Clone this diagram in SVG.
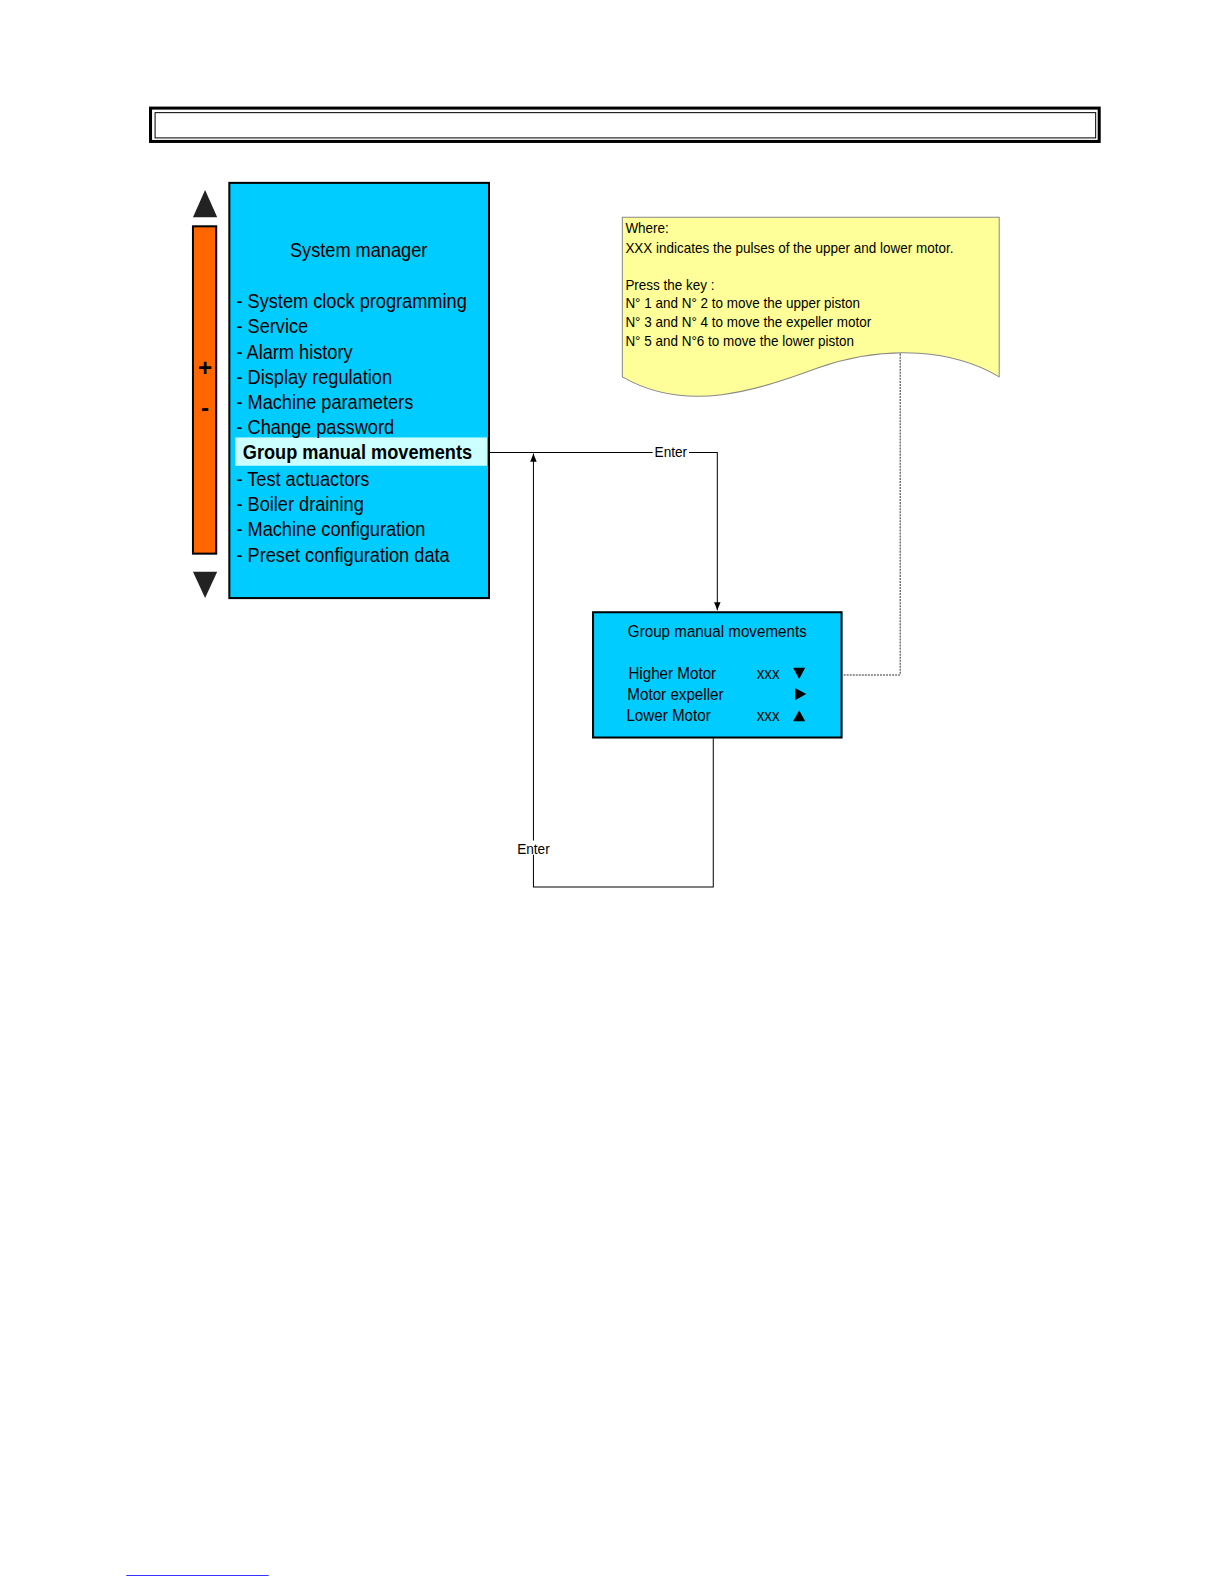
<svg xmlns="http://www.w3.org/2000/svg" width="1224" height="1584" viewBox="0 0 1224 1584">
<style>
.t{font-family:"Liberation Sans",Arial,sans-serif;fill:#000}
.m{font-size:20px}
.s{font-size:15px}
.b{font-size:16px}
.blue{fill:#00ccff;stroke:#000;stroke-width:2}
.ln{fill:none;stroke:#000;stroke-width:1}
</style>
<defs>
<marker id="ah" viewBox="0 0 10 10" refX="10" refY="5" markerWidth="8" markerHeight="8" markerUnits="userSpaceOnUse" orient="auto">
<path d="M0,1 L10,5 L0,9 Z" fill="#000"/>
</marker>
</defs>
<rect width="1224" height="1584" fill="#fff"/>
<g transform="scale(1.0103)">

<g id="title">
<rect x="149" y="107" width="939" height="33" fill="#fff" stroke="#000" stroke-width="3"/>
<rect x="153.5" y="111.5" width="931" height="25" fill="none" stroke="#000" stroke-width="1"/>
</g>

<g id="scroll">
<polygon points="191,215 215,215 203,188" fill="#222"/>
<rect x="191" y="224" width="23" height="324" fill="#ff6600" stroke="#000" stroke-width="2"/>
<text class="t" x="203" y="372" font-size="24" font-weight="bold" text-anchor="middle">+</text>
<text class="t" x="203" y="412" font-size="24" font-weight="bold" text-anchor="middle">-</text>
<polygon points="191,566 215,566 203,592" fill="#222"/>
</g>

<g id="menu">
<rect class="blue" x="227" y="181" width="257" height="411"/>
<rect x="233" y="433" width="249" height="28" fill="#ccffff"/>
<text class="t m" transform="translate(355,254) scale(0.9,1)" text-anchor="middle">System manager</text>
<g transform="translate(234,0) scale(0.9,1)">
<text class="t m" x="0" y="305">- System clock programming</text>
<text class="t m" x="0" y="330">- Service</text>
<text class="t m" x="0" y="355">- Alarm history</text>
<text class="t m" x="0" y="380">- Display regulation</text>
<text class="t m" x="0" y="405">- Machine parameters</text>
<text class="t m" x="0" y="430">- Change password</text>
<text class="t m" x="7" y="454" font-weight="bold">Group manual movements</text>
<text class="t m" x="0" y="481">- Test actuactors</text>
<text class="t m" x="0" y="506">- Boiler draining</text>
<text class="t m" x="0" y="531">- Machine configuration</text>
<text class="t m" x="0" y="556">- Preset configuration data</text>
</g>
</g>

<g id="note">
<path d="M616,215 H989 V373 C945,347 880,340 810,364 C750,386 680,410 616,373 Z" fill="#ffff99" stroke="#888" stroke-width="1"/>
<g transform="translate(619,0) scale(0.89,1)">
<text class="t s" x="0" y="231">Where:</text>
<text class="t s" x="0" y="250">XXX indicates the pulses of the upper and lower motor.</text>
<text class="t s" x="0" y="287">Press the key :</text>
<text class="t s" x="0" y="305">N° 1 and N° 2 to move the upper piston</text>
<text class="t s" x="0" y="324">N° 3 and N° 4 to move the expeller motor</text>
<text class="t s" x="0" y="342">N° 5 and N°6  to move the lower piston</text>
</g>
</g>

<g id="gmm">
<rect class="blue" x="587" y="606" width="246" height="124"/>
<g transform="scale(0.94,1)">
<text class="t b" x="755.3" y="631" text-anchor="middle">Group manual movements</text>
<text class="t b" x="661.7" y="672">Higher Motor</text>
<text class="t b" x="796.8" y="672">xxx</text>
<text class="t b" x="660.6" y="693">Motor expeller</text>
<text class="t b" x="659.6" y="714">Lower Motor</text>
<text class="t b" x="796.8" y="714">xxx</text>
</g>
<polygon points="785,661 797,661 791,672" fill="#000"/>
<polygon points="787,681 787,693 798,687" fill="#000"/>
<polygon points="785,714 797,714 791,703" fill="#000"/>
</g>

<g id="connectors">
<polyline class="ln" points="484,448 710,448 710,604" marker-end="url(#ah)"/>
<rect x="646" y="440" width="36" height="14" fill="#fff"/>
<text class="t" font-size="15" text-anchor="middle" transform="translate(664,452) scale(0.9,1)">Enter</text>
<polyline class="ln" points="706,731 706,878 528,878 528,449" marker-end="url(#ah)"/>
<rect x="510" y="832" width="36" height="14" fill="#fff"/>
<text class="t" font-size="15" text-anchor="middle" transform="translate(528,845) scale(0.9,1)">Enter</text>
<polyline points="891,350 891,668 834,668" fill="none" stroke="#333" stroke-width="1" stroke-dasharray="2,1"/>
</g>

<line x1="125" y1="1559.5" x2="266" y2="1559.5" stroke="#3333ff" stroke-width="1"/>
</g>
</svg>
